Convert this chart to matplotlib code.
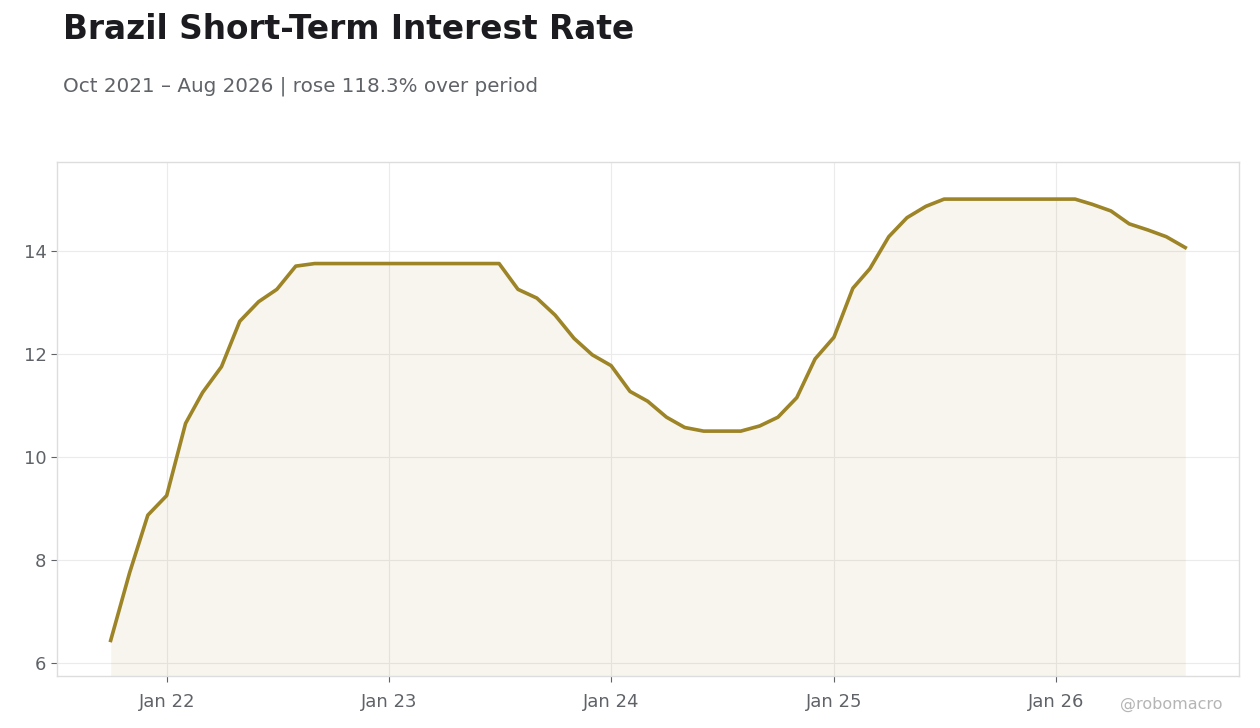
import numpy as np
import pandas as pd
import matplotlib
matplotlib.use("Agg")
import matplotlib.pyplot as plt
import matplotlib.dates as mdates

# monthly observations, Oct 2021 - Aug 2026
months = pd.date_range("2021-10-01", "2026-08-01", freq="MS")
rate = [
    6.44, 7.75, 8.87,                                                  # 2021
    9.25, 10.65, 11.25, 11.75, 12.63, 13.01, 13.25, 13.70, 13.75, 13.75, 13.75, 13.75,   # 2022
    13.75, 13.75, 13.75, 13.75, 13.75, 13.75, 13.75, 13.25, 13.08, 12.75, 12.30, 11.98,  # 2023
    11.77, 11.27, 11.08, 10.77, 10.57, 10.50, 10.50, 10.50, 10.60, 10.77, 11.15, 11.90,  # 2024
    12.32, 13.27, 13.65, 14.27, 14.64, 14.86, 15.00, 15.00, 15.00, 15.00, 15.00, 15.00,  # 2025
    15.00, 15.00, 14.90, 14.77, 14.52, 14.40, 14.27, 14.06,                              # 2026
]

title = "Brazil Short-Term Interest Rate"
subtitle = "Oct 2021 \u2013 Aug 2026 | rose 118.3% over period"

line_col = "#9C8427"
text_col = "#5f6368"

fig = plt.figure(figsize=(12.6, 7.28), dpi=100)
ax = fig.add_axes([0.0452, 0.0714, 0.9381, 0.7061])

ymin, ymax = 5.75, 15.72
ax.fill_between(months, rate, ymin, color=line_col, alpha=0.08, linewidth=0)
ax.plot(months, rate, color=line_col, linewidth=2.6)

ax.set_ylim(ymin, ymax)
ax.margins(x=0.05)
ax.set_yticks([6, 8, 10, 12, 14])
ax.xaxis.set_major_locator(mdates.YearLocator())
ax.xaxis.set_major_formatter(mdates.DateFormatter("Jan %y"))

ax.grid(True, color="#ebebeb", linewidth=0.8)
ax.set_axisbelow(True)
for s in ax.spines.values():
    s.set_color("#dddddd")
    s.set_linewidth(1.0)
ax.tick_params(colors=text_col, labelsize=13, length=4, width=0.8)
ax.tick_params(axis="x", pad=8)

fig.text(0.05, 0.96, title, fontsize=23.6, fontweight="bold", color="#1c1c20", va="center")
fig.text(0.05, 0.882, subtitle, fontsize=14.3, color=text_col, va="center")
fig.text(0.97, 0.032, "@robomacro", fontsize=11.5, color="#b5b5b5", ha="right", va="center")

fig.savefig("out.png", dpi=100, facecolor="white")
